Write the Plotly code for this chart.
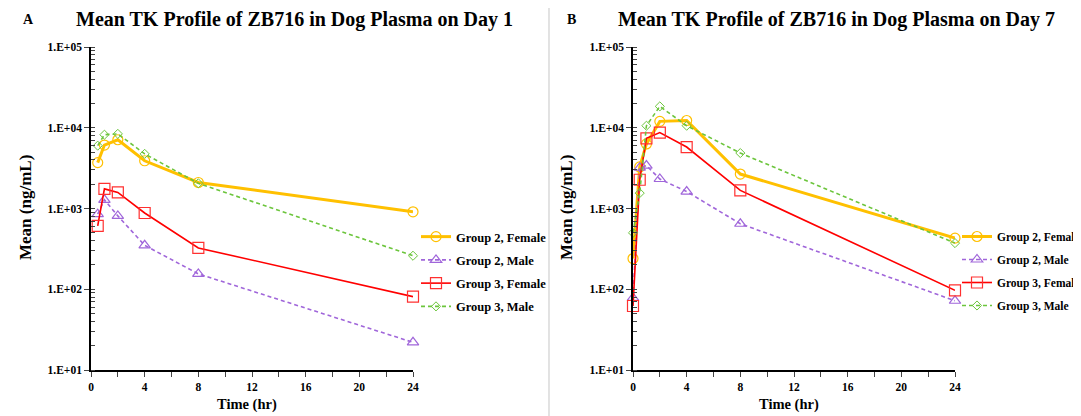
import plotly.graph_objects as go
from plotly.subplots import make_subplots

W, H = 1081, 416
PAGE_OFFSET = 8  # default body margin of the html page

# Day 1 sampling times and means (ng/mL)
time_d1 = [0.5, 1, 2, 4, 8, 24]
d1_g2_female = [3700, 6100, 7100, 3900, 2100, 910]
d1_g2_male = [850, 1280, 810, 350, 155, 22]
d1_g3_female = [610, 1750, 1580, 880, 325, 81]
d1_g3_male = [6000, 8200, 8400, 4750, 2050, 260]

# Day 7
time_d7 = [0, 0.5, 1, 2, 4, 8, 24]
d7_g2_female = [240, 3270, 6300, 12000, 12300, 2670, 430]
d7_g2_male = [78, 3200, 3400, 2320, 1620, 647, 72]
d7_g3_female = [62, 2270, 7400, 8700, 5770, 1675, 97]
d7_g3_male = [500, 1550, 10600, 18400, 10600, 4860, 373]

series_names = ['Group 2, Female', 'Group 2, Male', 'Group 3, Female', 'Group 3, Male']
ytick_vals = [10, 100, 1000, 10000, 100000]
ytick_text = ['1.E+01', '1.E+02', '1.E+03', '1.E+04', '1.E+05']
xtick_vals = [0, 4, 8, 12, 16, 20, 24]

FONT = 'Liberation Serif'

styles = [
    dict(line=dict(color='#FFC000', width=3),
         marker=dict(symbol='circle-open', size=10, color='#FFC000', line=dict(width=1.2))),
    dict(line=dict(color='#A066DA', width=1.6, dash='4px,3px'),
         marker=dict(symbol='triangle-up-open', size=10, color='#A066DA', line=dict(width=1.2))),
    dict(line=dict(color='#FF0000', width=1.6),
         marker=dict(symbol='square-open', size=11, color='#FF3030', line=dict(width=1.2))),
    dict(line=dict(color='#6CC53C', width=1.6, dash='4px,3px'),
         marker=dict(symbol='diamond-open', size=7, color='#6CC53C', line=dict(width=1))),
]

fig = make_subplots(rows=1, cols=2)

panels = [
    (1, 'legend', time_d1, [d1_g2_female, d1_g2_male, d1_g3_female, d1_g3_male]),
    (2, 'legend2', time_d7, [d7_g2_female, d7_g2_male, d7_g3_female, d7_g3_male]),
]
for col, leg, t, ys in panels:
    for i, (name, y) in enumerate(zip(series_names, ys)):
        fig.add_trace(
            go.Scatter(x=t, y=y, name=name, mode='lines+markers',
                       legend=leg, legendgroup=f'{leg}{i}',
                       cliponaxis=False, **styles[i]),
            row=1, col=col,
        )

# page pixel -> paper fraction
def px_x(p):
    return (p - PAGE_OFFSET) / W

def px_y(p):
    return 1 - (p - PAGE_OFFSET) / H

axis_font = dict(family=FONT, size=11.5, color='black', weight='bold')

fig.update_xaxes(
    range=[0, 24], tickvals=xtick_vals, ticks='outside', ticklen=5, tickwidth=1.3,
    showline=True, linecolor='black', linewidth=1.5, showgrid=False, zeroline=False,
    tickfont=axis_font, automargin=False,
    minor=dict(dtick=2, ticks='outside', ticklen=5, tickwidth=1.3, showgrid=False),
)
fig.update_yaxes(
    type='log', range=[1, 5], tickvals=ytick_vals, ticktext=ytick_text,
    ticks='outside', ticklen=5, tickwidth=1.3,
    showline=True, linecolor='black', linewidth=1.5, showgrid=False, zeroline=False,
    tickfont=axis_font, automargin=False,
    minor=dict(dtick='D1', ticks='inside', ticklen=4, tickwidth=1, showgrid=False),
)

ydom = [px_y(370), px_y(47)]
fig.update_layout(
    xaxis=dict(domain=[px_x(91), px_x(413)]),
    xaxis2=dict(domain=[px_x(633), px_x(955)]),
    yaxis=dict(domain=ydom),
    yaxis2=dict(domain=ydom),
)

legend_common = dict(
    bgcolor='rgba(0,0,0,0)', yanchor='top', xanchor='left',
    tracegroupgap=4, itemwidth=30,
)
fig.update_layout(
    legend=dict(x=px_x(416), y=px_y(222),
                font=dict(family=FONT, size=12.5, color='black', weight='bold'),
                **legend_common),
    legend2=dict(x=px_x(957), y=px_y(222),
                 font=dict(family=FONT, size=11.5, color='black', weight='bold'),
                 **legend_common),
)

annotations = [
    dict(text='A', x=px_x(28), y=px_y(19), font=dict(size=14)),
    dict(text='Mean TK Profile of ZB716 in Dog Plasma on Day 1', x=px_x(294), y=px_y(19), font=dict(size=20)),
    dict(text='B', x=px_x(571), y=px_y(19), font=dict(size=14)),
    dict(text='Mean TK Profile of ZB716 in Dog Plasma on Day 7', x=px_x(836), y=px_y(19), font=dict(size=20)),
    dict(text='Time (hr)', x=px_x(247), y=px_y(404), font=dict(size=14.5)),
    dict(text='Time (hr)', x=px_x(789), y=px_y(404), font=dict(size=14.5)),
    dict(text='Mean (ng/mL)', x=px_x(25), y=px_y(208), textangle=-90, font=dict(size=17)),
    dict(text='Mean (ng/mL)', x=px_x(566), y=px_y(208), textangle=-90, font=dict(size=17)),
]
for a in annotations:
    a['font'].update(family=FONT, color='black', weight='bold')
    fig.add_annotation(xref='paper', yref='paper', showarrow=False,
                       xanchor='center', yanchor='middle', **a)

# panel frames
frame = dict(type='rect', xref='paper', yref='paper', line=dict(color='#D9D9D9', width=1),
             fillcolor='rgba(0,0,0,0)', layer='below')
fig.add_shape(x0=px_x(7), x1=px_x(549), y0=-0.05, y1=px_y(6), **frame)
fig.add_shape(x0=px_x(549), x1=1.05, y0=-0.05, y1=px_y(6), **frame)

fig.update_layout(
    width=W, height=H, margin=dict(l=0, r=0, t=0, b=0, autoexpand=False),
    paper_bgcolor='white', plot_bgcolor='white',
    font=dict(family=FONT, color='black'),
    showlegend=True,
)

fig.write_html('out.html')
